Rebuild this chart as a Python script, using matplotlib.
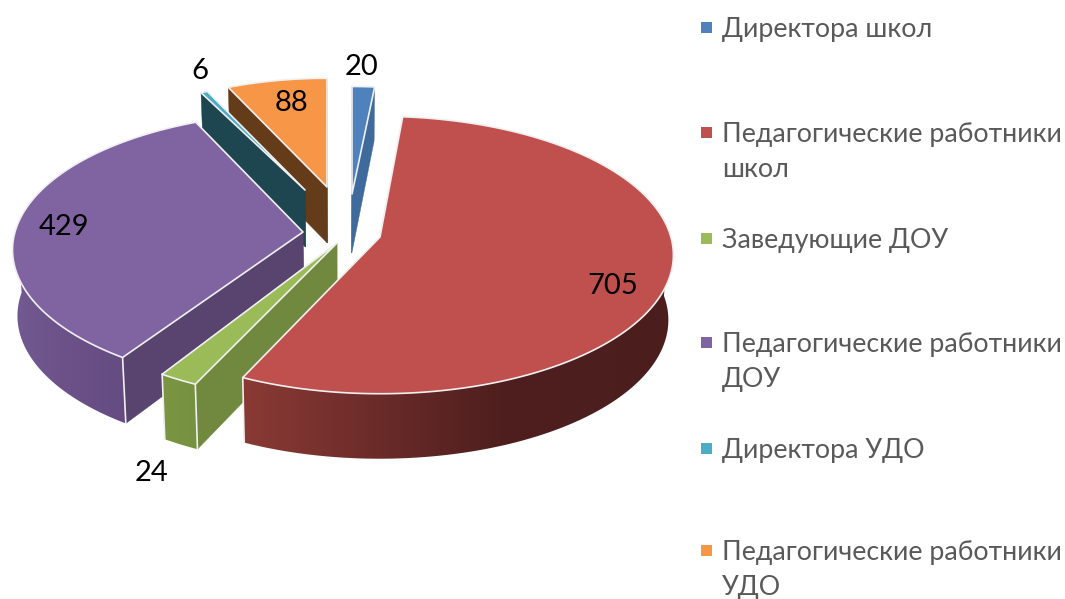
import numpy as np
import matplotlib
matplotlib.use("Agg")
import matplotlib.pyplot as plt
from matplotlib.patches import Polygon, Rectangle
from matplotlib.colors import to_rgb

categories = ["Директора школ", "Педагогические работники\nшкол", "Заведующие ДОУ",
              "Педагогические работники\nДОУ", "Директора УДО", "Педагогические работники\nУДО"]
values = [20, 705, 24, 429, 6, 88]

top_colors = ["#4F81BD", "#C0504D", "#9BBB59", "#8064A2", "#4BACC6", "#F79646"]
side_colors = ["#3F6A9C", "#6b2c2a", "#71883F", "#58446F", "#1D4650", "#653C1A"]
# outer wall gradient stops along screen x
wall_stops = [
    [(340, "#3F6A9C"), (380, "#3F6A9C")],
    [(243, "#8a3a35"), (380, "#6a2b29"), (500, "#4e1f1e"), (672, "#4b1e1d")],
    [(160, "#7a9643"), (197, "#76913f")],
    [(12, "#725a92"), (60, "#6c5289"), (128, "#644b80")],
    [(200, "#1D4650"), (210, "#1D4650")],
    [(228, "#8a5a2a"), (330, "#c08040")],
]
# per-slice layout: apex x, apex y, radial scale, angle nudge, outer depth, apex depth
apex = [(352, 194), (380, 237), (337, 243), (303, 232), (305, 190), (327, 187)]
scale = [0.90, 1.01, 1.02, 1.0, 0.90, 0.91]
nudge = [0.0, -0.6, 0.0, 2.0, 0.0, 0.0]
depth_outer = [54, 65, 65, 66, 56, 56]
depth_apex = [59, 60, 62, 60, 57, 56]
A, B, K = 288.0, 135.0, 0.13

W, H = 1065, 599
fig = plt.figure(figsize=(W / 100, H / 100), dpi=100)
ax = fig.add_axes([0, 0, 1, 1])
plt.rcParams["font.family"] = ["Lato", "Open Sans"]

total = sum(values)
sweeps = [v / total * 360 for v in values]
starts = np.cumsum([0] + sweeps[:-1])
EDGE = "#f0f0f0"


def rim(i, theta):
    t = np.radians(theta + nudge[i])
    X, Y = np.sin(t), np.cos(t)
    s = 1 / (1 + K * Y) * scale[i]
    return apex[i][0] + A * X * s, apex[i][1] - B * Y * s


def drop(p, d):
    return p[0] + (340 - p[0]) * 0.015, p[1] + d


def stop_color(stops, x):
    xs = [q[0] for q in stops]
    cs = np.array([to_rgb(q[1]) for q in stops])
    return np.stack([np.interp(x, xs, cs[:, k]) for k in range(3)], axis=-1)


draw_order = [5, 4, 0, 3, 2, 1]
for z, i in enumerate(draw_order):
    z0 = 2 + z * 10
    th = np.linspace(starts[i], starts[i] + sweeps[i], max(3, int(sweeps[i] * 1.5)))
    pts = [rim(i, a) for a in th]
    c = apex[i]
    c_low = drop(c, depth_apex[i])
    # radial walls
    for p in (pts[0], pts[-1]):
        poly = [c, p, drop(p, depth_outer[i]), c_low]
        ax.add_patch(Polygon(poly, closed=True, fc=side_colors[i], ec=side_colors[i], lw=0.3, zorder=z0))
    # outer wall, front part only, as a horizontal gradient clipped to its outline
    front = [p for a, p in zip(th, pts) if np.cos(np.radians(a + nudge[i])) <= 0.05]
    if len(front) >= 2:
        low = [drop(p, depth_outer[i]) for p in front]
        outline = front + low[::-1]
        xs = [p[0] for p in outline]
        ys = [p[1] for p in outline]
        x0, x1, y0, y1 = min(xs), max(xs), min(ys), max(ys)
        grid = stop_color(wall_stops[i], np.linspace(x0, x1, 400))[None, :, :]
        clip = Polygon(outline, closed=True, fc="none", ec="none", transform=ax.transData)
        ax.add_patch(clip)
        im = ax.imshow(grid, extent=(x0, x1, y1, y0), aspect="auto", zorder=z0 + 1,
                       interpolation="bilinear")
        im.set_clip_path(clip)
    # white corners on the visible front edges
    for p in (pts[0], pts[-1]):
        if p[1] > c[1]:
            d = drop(p, depth_outer[i])
            ax.plot([p[0], d[0]], [p[1], d[1]], color=EDGE, lw=1.2, zorder=z0 + 2)
    # top face
    ax.add_patch(Polygon([c] + pts, closed=True, fc=top_colors[i], ec=EDGE, lw=1.2,
                         joinstyle="round", zorder=z0 + 3))

label_pos = [(362, 67), (613, 286), (152, 473), (64, 227), (200, 71), (292, 103)]
for v, (x, y) in zip(values, label_pos):
    ax.text(x, y, str(v), fontsize=21, color="black", ha="center", va="center", zorder=100)

legend_base = [37, 142, 248, 352, 458, 560]
LINE_GAP = 35
for name, y, col in zip(categories, legend_base, top_colors):
    ax.add_patch(Rectangle((701, y - 15), 11, 11, fc=col, ec="none", zorder=100))
    ax.text(722, y + LINE_GAP * name.count("\n"), name, fontsize=19.3, color="#595959",
            ha="left", va="baseline", linespacing=1.48, zorder=100)

ax.set_xlim(0, W)
ax.set_ylim(H, 0)
ax.axis("off")
fig.savefig("out.png", dpi=100)
